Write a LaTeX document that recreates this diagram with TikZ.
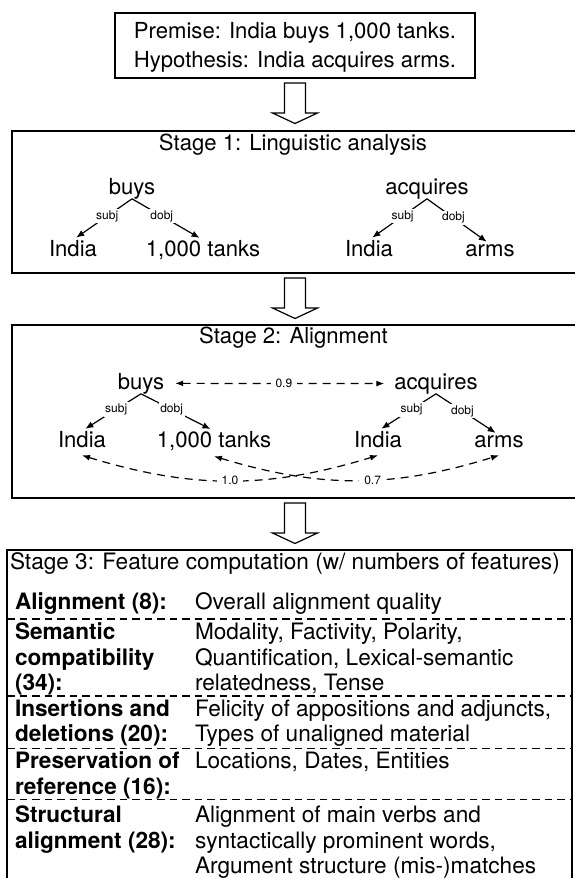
\documentclass[tikz,border=0pt]{standalone}
\usepackage{fontspec}
\setmainfont{TeX Gyre Heros}
\usetikzlibrary{arrows.meta,calc}
\begin{document}
\begin{tikzpicture}[x=1pt,y=-1pt,
  every node/.style={inner sep=0pt, outer sep=0pt},
  big/.style={font=\fontsize{22.1}{29}\selectfont},
  tbl/.style={font=\fontsize{22.6}{25.6}\selectfont},
  tblb/.style={font=\fontsize{22.6}{25.6}\selectfont\bfseries},
  lbl/.style={font=\fontsize{12}{14}\selectfont, fill=white, inner sep=1.5pt},
  nlbl/.style={font=\fontsize{12}{14}\selectfont, fill=white, inner xsep=5pt, inner ysep=2pt},
  stagebox/.style={draw, line width=1.2pt},
  dep/.style={line width=1.2pt, -{Latex[length=8pt,width=6.5pt]}},
  alignarrow/.style={line width=1.2pt, dash pattern=on 8pt off 6pt,
     {Latex[length=8pt,width=6pt]}-{Latex[length=8pt,width=6pt]}},
  rowsep/.style={line width=1.1pt, dash pattern=on 7.5pt off 5pt},
  hollow/.pic={\draw[line width=1.2pt] (-10.5,0) -- (10.5,0) -- (10.5,30) -- (22.5,30)
     -- (0,40.5) -- (-22.5,30) -- (-10.5,30) -- cycle;}
]
\useasboundingbox (0,0) rectangle (574,878);

% ---- premise box
\node[stagebox, minimum width=360pt, minimum height=65pt, align=center, big]
  (premise) at (295,45.5) {\rule{0pt}{20.7pt}Premise: India buys 1,000 tanks.\\Hypothesis: India acquires arms.};

% ---- stage boxes
\node[stagebox, minimum width=563.5pt, minimum height=142pt] (stage1) at (293.75,202) {};
\node[stagebox, minimum width=563.5pt, minimum height=173pt] (stage2) at (293.75,411.5) {};
\node[stagebox, minimum width=565pt, minimum height=336pt] (stage3) at (289.5,718) {};

% ---- hollow arrows between stages
\pic at ($(premise.south)+(0,5)$) {hollow};
\pic at ($(premise.south |- stage1.south)+(0,5)$) {hollow};
\pic at ($(premise.south |- stage2.south)+(0,5)$) {hollow};

% ---- Stage 1
\node[big, anchor=base] (t1) at (293,150) {Stage 1: Linguistic analysis};
\node[big, anchor=base] (v1) at (132,194) {buys};
\node[big, anchor=base] (c1a) at (73,256) {India};
\node[big, anchor=base] (c1b) at (203,256) {1,000 tanks};
\node[big, anchor=base] (v2) at (427,194) {acquires};
\node[big, anchor=base] (c2a) at (369,256) {India};
\node[big, anchor=base] (c2b) at (490,256) {arms};
\draw[dep, shorten >=4pt] (v1.south) -- node[lbl, pos=0.42] {subj} (c1a.north);
\draw[dep, shorten >=4pt] (v1.south) -- node[lbl, pos=0.42] {dobj} (c1b.north);
\draw[dep, shorten >=4pt] (v2.south) -- node[lbl, pos=0.42] {subj} (c2a.north);
\draw[dep, shorten >=4pt] (v2.south) -- node[lbl, pos=0.42] {dobj} (c2b.north);

% ---- Stage 2
\node[big, anchor=base] (t2) at (293.5,343) {Stage 2: Alignment};
\node[big, anchor=base] (v3) at (141,389) {buys};
\node[big, anchor=base] (c3a) at (82,447) {India};
\node[big, anchor=base] (c3b) at (214,447) {1,000 tanks};
\node[big, anchor=base] (v4) at (436,389) {acquires};
\node[big, anchor=base] (c4a) at (378,447) {India};
\node[big, anchor=base] (c4b) at (499,447) {arms};
\draw[dep, shorten >=4pt] (v3.south) -- node[lbl, pos=0.42] {subj} (c3a.north);
\draw[dep, shorten >=4pt] (v3.south) -- node[lbl, pos=0.42] {dobj} (c3b.north);
\draw[dep, shorten >=4pt] (v4.south) -- node[lbl, pos=0.42] {subj} (c4a.north);
\draw[dep, shorten >=4pt] (v4.south) -- node[lbl, pos=0.42] {dobj} (c4b.north);
\draw[alignarrow, shorten <=11pt, shorten >=10pt] (v3.east) -- node[nlbl, pos=0.52] {0.9} (v4.west);
\draw[alignarrow] ([yshift=-8pt]c3a.south) to[bend right=17] node[nlbl, pos=0.5] {1.0} ([yshift=-8pt]c4a.south);
\draw[alignarrow] ([yshift=-6pt]c3b.south) to[bend right=17] node[nlbl, pos=0.56] {0.7} ([yshift=-8pt]c4b.south);

% ---- Stage 3
\node[tbl, anchor=base west] (t3) at (10,569) {Stage 3: Feature computation (w/ numbers of features)};

\node[tblb, anchor=base west] (l1a) at (15,609) {Alignment (8):};
\node[tbl, anchor=base west] (r1a) at (195,609) {Overall alignment quality};
\draw[rowsep] (7,619) -- (572,619);

\node[tblb, anchor=base west] (l2a) at (15,639.5) {Semantic};
\node[tblb, anchor=base west] (l2b) at (15,665) {compatibility};
\node[tblb, anchor=base west] (l2c) at (15,690.5) {(34):};
\node[tbl, anchor=base west] (r2a) at (195,639.5) {Modality, Factivity, Polarity,};
\node[tbl, anchor=base west] (r2b) at (195,665) {Quantification, Lexical-semantic};
\node[tbl, anchor=base west] (r2c) at (195,690.5) {relatedness, Tense};
\draw[rowsep] (7,696) -- (572,696);

\node[tblb, anchor=base west] (l3a) at (15,716) {Insertions and};
\node[tblb, anchor=base west] (l3b) at (15,741.5) {deletions (20):};
\node[tbl, anchor=base west] (r3a) at (195,716) {Felicity of appositions and adjuncts,};
\node[tbl, anchor=base west] (r3b) at (195,741.5) {Types of unaligned material};
\draw[rowsep] (7,748.5) -- (572,748.5);

\node[tblb, anchor=base west] (l4a) at (15,768.5) {Preservation of};
\node[tblb, anchor=base west] (l4b) at (15,794) {reference (16):};
\node[tbl, anchor=base west] (r4a) at (195,768.5) {Locations, Dates, Entities};
\draw[rowsep] (7,799.5) -- (572,799.5);

\node[tblb, anchor=base west] (l5a) at (15,822.5) {Structural};
\node[tblb, anchor=base west] (l5b) at (15,848) {alignment (28):};
\node[tbl, anchor=base west] (r5a) at (195,822.5) {Alignment of main verbs and};
\node[tbl, anchor=base west] (r5b) at (195,848) {syntactically prominent words,};
\node[tbl, anchor=base west] (r5c) at (195,873.5) {Argument structure (mis-)matches};
\end{tikzpicture}
\end{document}
